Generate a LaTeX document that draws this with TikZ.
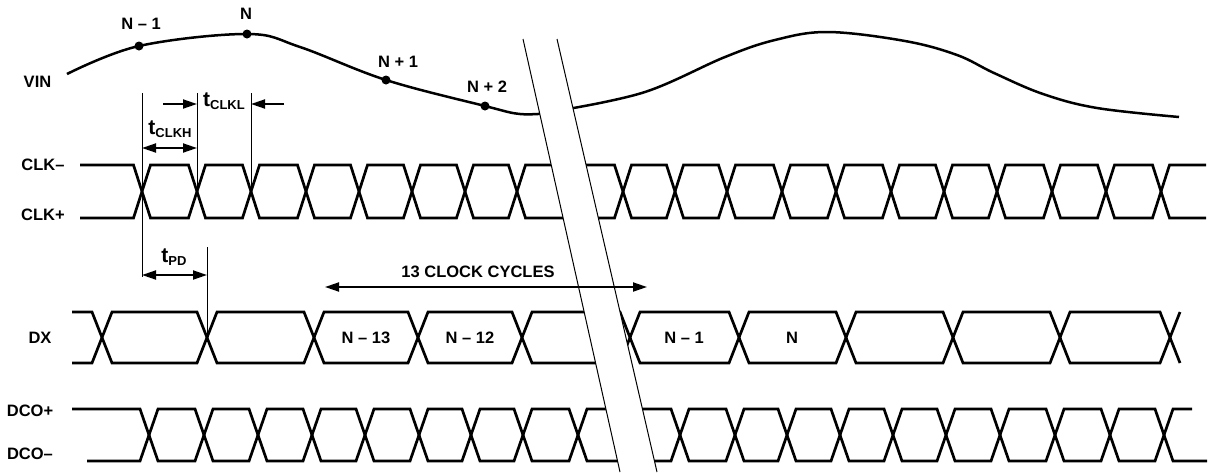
\documentclass[tikz,border=0pt]{standalone}
\usepackage{fontspec}
\setmainfont{Liberation Sans}
\usetikzlibrary{arrows.meta}
\newcommand\wavetrace[6]{%
  \draw[wave] (#1,#2) \foreach \c [count=\i] in {#5} {
    -- ({\c-#4},{mod(\i,2)==1 ? #2 : #3}) -- ({\c+#4},{mod(\i,2)==1 ? #3 : #2})
  } #6;
}
\newcommand\tsym[1]{{\fontsize{21}{21}\selectfont t}\raisebox{-2.5pt}{\fontsize{13}{13}\selectfont #1}}
\begin{document}
\begin{tikzpicture}[x=1pt,y=-1pt,
  wave/.style={line width=2.7pt, line join=miter},
  thinline/.style={line width=1pt},
  vinline/.style={line width=2.5pt},
  lbl/.style={font=\fontsize{16.5}{16.5}\selectfont\bfseries, inner sep=0pt},
  tlbl/.style={font=\bfseries, inner sep=0pt},
  dot/.style={circle, fill=black, inner sep=0pt, minimum size=9pt},
  dimarrow/.style={line width=1.9pt, arrows={Triangle[length=14pt,width=9pt]-Triangle[length=14pt,width=9pt]}},
  onearrow/.style={line width=1.9pt, arrows={-Triangle[length=14pt,width=9pt]}}
]
\useasboundingbox (0,0) rectangle (1209,472);

% signal names
\node[lbl] (vin) at (37.5,82) {VIN};
\node[lbl] (clkm) at (43,165) {CLK–};
\node[lbl] (clkp) at (43,215) {CLK+};
\node[lbl] (dx) at (40,338) {DX};
\node[lbl] (dcop) at (30,411) {DCO+};
\node[lbl] (dcom) at (30,454) {DCO–};

% VIN curve
\draw[vinline] plot[smooth, tension=0.6] coordinates {(67,74) (139,46) (247,34) (300,47) (386,80) (485,106) (520,114) (550,113)};
\draw[vinline] plot[smooth, tension=0.6] coordinates {(562,110) (645,92) (725,57) (775,40) (828,32) (905,41) (957,55) (994,73) (1043,94) (1097,108) (1179,117)};
\node[dot] (pn1) at (139,46) {};
\node[dot] (pn) at (247,34) {};
\node[dot] (pp1) at (386,80) {};
\node[dot] (pp2) at (485,106) {};
\node[lbl] (lpn1) at (141,24) {N – 1};
\node[lbl] (lpn) at (246,14) {N};
\node[lbl] (lpp1) at (398,62) {N + 1};
\node[lbl] (lpp2) at (487,87) {N + 2};

% CLK
\wavetrace{80}{165}{218}{8.5}{142,197,251,306,359,412,465,517,572,623,675,727,782,836,891,944,997,1052,1106,1161}{-- (1206,165)}
\wavetrace{80}{218}{165}{8.5}{142,197,251,306,359,412,465,517,572,623,675,727,782,836,891,944,997,1052,1106,1161}{-- (1206,218)}

% DX
\wavetrace{72}{312}{363}{10}{102,207,314,418,522,630,739,846,953,1060,1170}{}
\wavetrace{72}{363}{312}{10}{102,207,314,418,522,630,739,846,953,1060,1170}{}
\node[lbl] (d13) at (366,338) {N – 13};
\node[lbl] (d12) at (470,338) {N – 12};
\node[lbl] (d1) at (684,338) {N – 1};
\node[lbl] (d0) at (792,338) {N};

% DCO
\wavetrace{72}{409}{461}{9}{149,204,258,312,365,419,471,523,578,630,680,735,787,840,893,946,1000,1055,1110,1164}{-- (1192,409)}
\wavetrace{87}{461}{409}{9}{149,204,258,312,365,419,471,523,578,630,680,735,787,840,893,946,1000,1055,1110,1164}{-- (1207,461)}

% timing markers
\coordinate (k0t) at (142,93); \coordinate (k0b) at (142,277);
\coordinate (k1t) at (197,93); \coordinate (k1x) at (197,191.5);
\coordinate (k2t) at (251,93); \coordinate (k2x) at (251,191.5);
\coordinate (pdt) at (207,247); \coordinate (pdx) at (207,337.5);
\draw[thinline] (k0t) -- (k0b);
\draw[thinline] (k1t) -- (k1x);
\draw[thinline] (k2t) -- (k2x);
\draw[thinline] (pdt) -- (pdx);

\coordinate (h0) at (142,148); \coordinate (h1) at (197,148);
\draw[dimarrow] (h0) -- (h1);
\node[tlbl] (tclkh) at (170,129) {\tsym{CLKH}};

\coordinate (l0) at (163,104); \coordinate (l1) at (197,104);
\coordinate (l2) at (284,104); \coordinate (l3) at (251,104);
\draw[onearrow] (l0) -- (l1);
\draw[onearrow] (l2) -- (l3);
\node[tlbl] (tclkl) at (224,101) {\tsym{CLKL}};

\coordinate (p0) at (142,275); \coordinate (p1) at (207,275);
\draw[dimarrow] (p0) -- (p1);
\node[tlbl] (tpd) at (174,257) {\tsym{PD}};

% break band
\coordinate (b1t) at (523,39); \coordinate (b1b) at (620,472);
\coordinate (b2t) at (557,39); \coordinate (b2b) at (657,472);
\fill[white] (b1t) -- (b2t) -- (b2b) -- (b1b) -- cycle;
\draw[thinline] (b1t) -- (b1b);
\draw[thinline] (b2t) -- (b2b);

% 13 clock cycles
\coordinate (cc0) at (325,287); \coordinate (cc1) at (647,287);
\draw[dimarrow] (cc0) -- (cc1);
\node[lbl] (cc) at (478,272) {13 CLOCK CYCLES};
\end{tikzpicture}
\end{document}
